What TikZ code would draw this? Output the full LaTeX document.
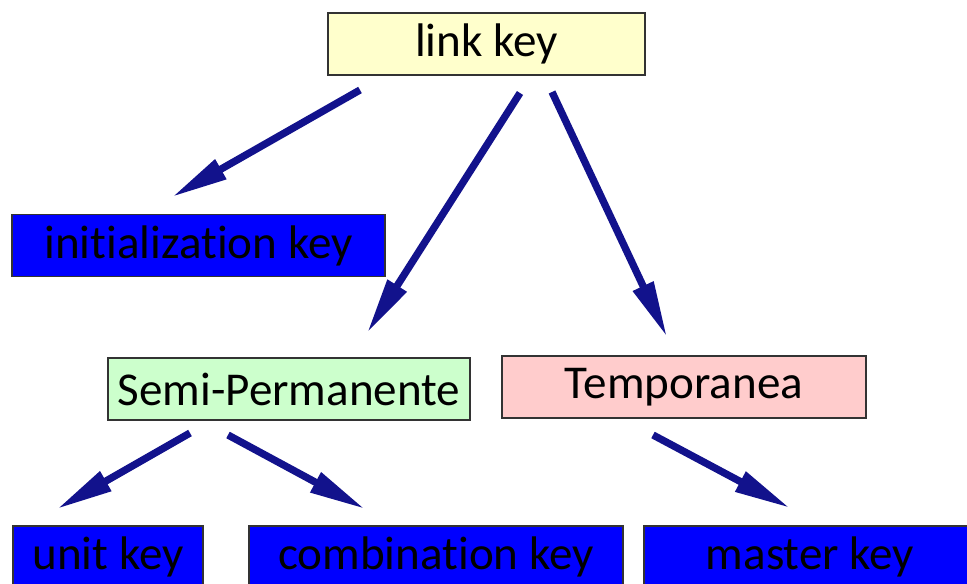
\documentclass[tikz,border=0pt]{standalone}
\usepackage{fontspec}
\setmainfont[Ligatures=NoCommon]{Carlito}
\usetikzlibrary{arrows.meta}

\definecolor{rootfill}{HTML}{FFFFCC}
\definecolor{semifill}{HTML}{CCFFCC}
\definecolor{tempfill}{HTML}{FFCCCC}
\definecolor{leaffill}{HTML}{0000FF}
\definecolor{arrowblue}{RGB}{18,18,140}

\begin{document}
\begin{tikzpicture}[x=0.025cm, y=-0.025cm,
    keybox/.style={draw=black!80, line width=0.9pt, inner sep=0pt,
                   minimum height=1.55cm, font=\fontsize{33.5}{40}\selectfont},
    keyarrow/.style={draw=arrowblue, line width=5.2pt,
                     -{Triangle[length=40pt, width=15pt]}}]
        \useasboundingbox (0,0) rectangle (967,584);
        % the boxes
        \node[keybox, fill=rootfill, minimum width=7.925cm] (link)   at (486.5, 44) {link key};
        \node[keybox, fill=leaffill, minimum width=9.325cm] (init)   at (198.5,245.5) {initialization key};
        \node[keybox, fill=semifill, minimum width=9.05cm]  (semi)   at (289,389)  {Semi-Permanente};
        \node[keybox, fill=tempfill, minimum width=9.1cm]   (temp)   at (684,387)  {Temporanea};
        \node[keybox, fill=leaffill, minimum width=4.75cm]  (unit)   at (108,557)  {unit key};
        \node[keybox, fill=leaffill, minimum width=9.35cm]  (comb)   at (436,557)  {combination key};
        \node[keybox, fill=leaffill, minimum width=8.3cm]   (master) at (810,557)  {master key};
        % coordinates for the arrow ends
        \coordinate (linkleft)    at (360, 90);
        \coordinate (linkmid)     at (520, 93);
        \coordinate (linkright)   at (552, 92);
        \coordinate (semileft)    at (190,433);
        \coordinate (semiright)   at (228,435);
        \coordinate (tempdown)    at (653,435);
        \coordinate (initin)      at (172,197);
        \coordinate (semiin)      at (367,333);
        \coordinate (tempin)      at (667,337);
        \coordinate (unitin)      at ( 57,509);
        \coordinate (combin)      at (365,509);
        \coordinate (masterin)    at (790,508);
        % drawing the arrows
        \draw[keyarrow] (linkleft)  -- (initin);
        \draw[keyarrow] (linkmid)   -- (semiin);
        \draw[keyarrow] (linkright) -- (tempin);
        \draw[keyarrow] (semileft)  -- (unitin);
        \draw[keyarrow] (semiright) -- (combin);
        \draw[keyarrow] (tempdown)  -- (masterin);
\end{tikzpicture}
\end{document}
